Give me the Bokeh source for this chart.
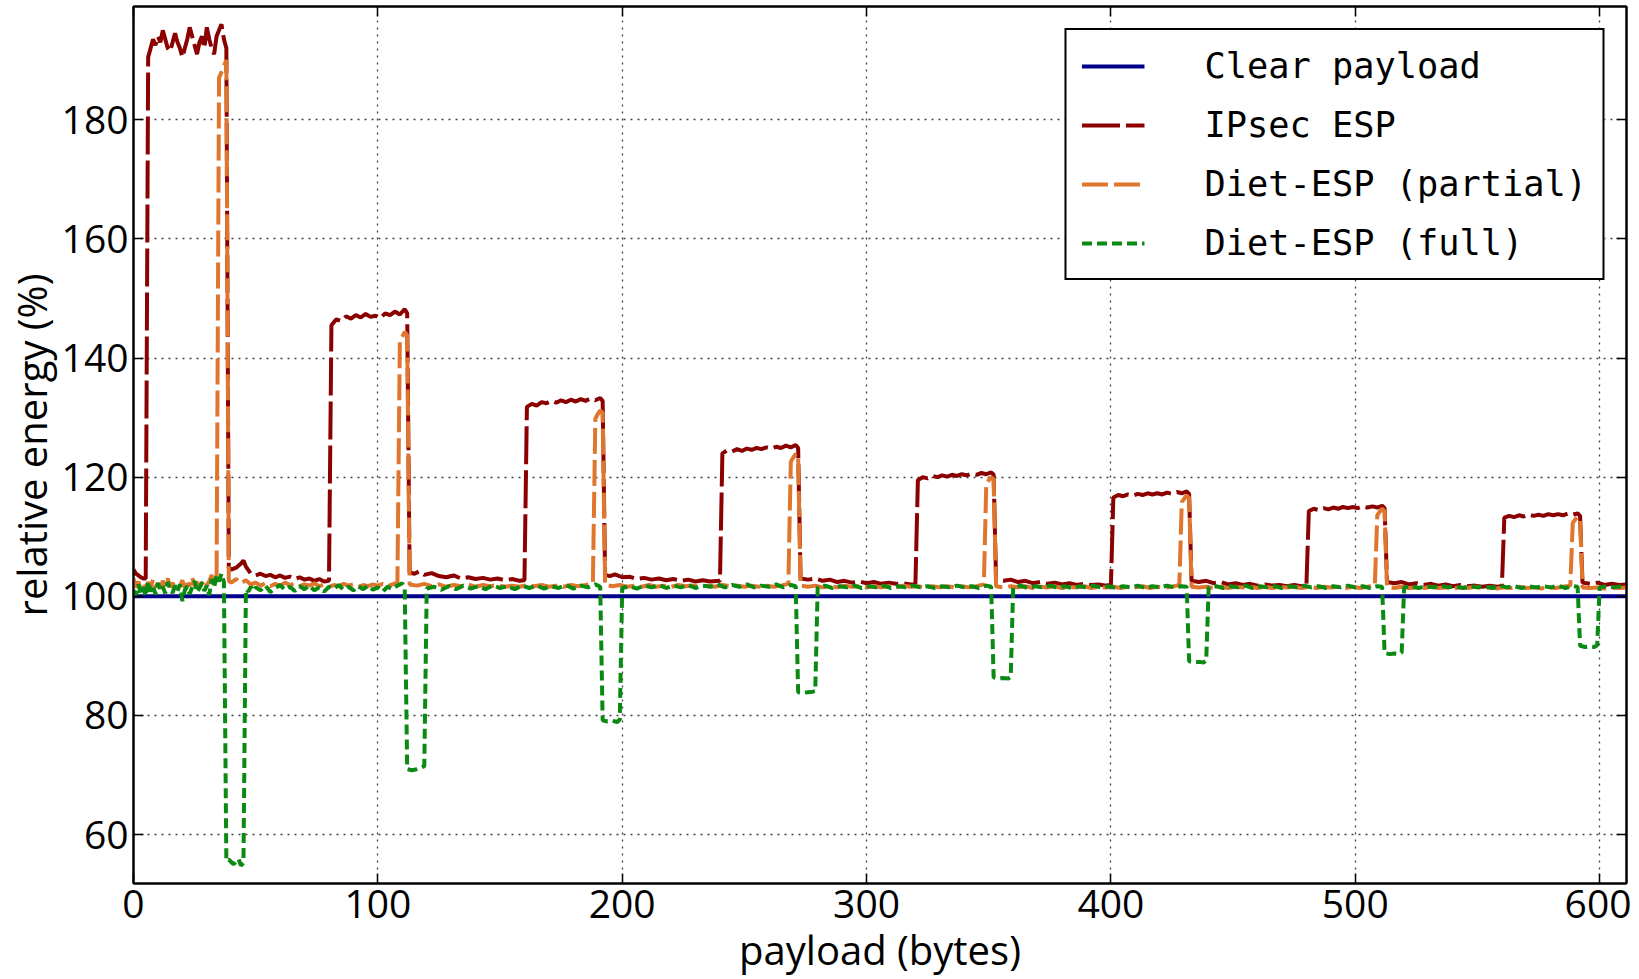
from bokeh.plotting import figure
from bokeh.models import (Range1d, FixedTicker, LinearAxis, CustomJSTickFormatter,
                          Legend, LegendItem)
from bokeh.embed import file_html
from bokeh.resources import INLINE

# ---------------- data ----------------
x_ticks = [0, 100, 200, 300, 400, 500, 600]
y_ticks = [60, 80, 100, 120, 140, 160, 180]
x_lim = (0, 611)
y_lim = (51.8, 199)

clear_x = [0, 611]
clear_y = [100.0, 100.0]

ipsec_x = [0, 1, 2, 3, 4, 5,
           6, 7, 8, 9, 10, 11, 12, 13, 14, 15, 16, 17, 18, 19, 20, 21, 22, 23, 24, 25, 26, 27, 28, 29, 30, 31, 32, 33, 34, 35, 36, 37, 38,
           39, 40, 42, 44, 45, 46, 48, 50, 52, 54, 56, 58, 60, 62, 64, 66, 68, 70, 72, 74, 76, 78, 80,
           81, 83, 85, 87, 89, 91, 93, 95, 97, 99, 101, 103, 105, 107, 109, 111, 112,
           113, 115, 117, 119, 122, 125, 128, 131, 134, 137, 140, 143, 146, 149, 152, 155, 158, 160,
           161, 163, 165, 167, 169, 171, 173, 175, 177, 179, 181, 183, 185, 187, 189, 191, 192,
           193, 195, 197, 200, 203, 206, 209, 212, 215, 218, 221, 224, 227, 230, 233, 236, 240,
           241, 243, 245, 247, 249, 251, 253, 255, 257, 259, 261, 263, 265, 267, 269, 271, 272,
           273, 276, 279, 282, 285, 288, 291, 294, 297, 300, 303, 306, 309, 312, 315, 318, 320,
           321, 323, 325, 327, 329, 331, 333, 335, 337, 339, 341, 343, 345, 347, 349, 351, 352,
           353, 356, 359, 362, 365, 368, 371, 374, 377, 380, 383, 386, 389, 392, 395, 398, 400,
           401, 403, 405, 407, 409, 411, 413, 415, 417, 419, 421, 423, 425, 427, 429, 431, 432,
           433, 436, 439, 442, 445, 448, 451, 454, 457, 460, 463, 466, 469, 472, 475, 478, 480,
           481, 483, 485, 487, 489, 491, 493, 495, 497, 499, 501, 503, 505, 507, 509, 511, 512,
           513, 516, 519, 522, 525, 528, 531, 534, 537, 540, 543, 546, 549, 552, 555, 558, 560,
           561, 563, 565, 567, 569, 571, 573, 575, 577, 579, 581, 583, 585, 587, 589, 591, 592,
           593, 596, 599, 602, 605, 608, 611]
ipsec_y = [104.5, 103.8, 103.5, 103.2, 103.0, 103.0,
           190.5, 192.0, 193.5, 192.5, 194.0, 193.0, 195.0, 193.5, 192.0, 191.5, 193.0, 194.5, 193.0, 192.0, 190.5, 192.0, 193.5, 195.5, 194.0, 192.5, 191.0, 193.0, 194.0, 192.0, 195.5, 193.5, 192.0, 191.0, 194.0, 195.0, 196.0, 193.5, 192.0,
           104.8, 104.5, 104.8, 105.5, 106.0, 105.0, 103.8, 103.5, 103.8, 103.4, 103.6, 103.2, 103.5, 103.1, 103.3, 102.9, 103.2, 102.8, 103.0, 102.6, 102.9, 102.5, 102.6,
           145.5, 146.5, 146.2, 147.0, 146.6, 147.2, 146.8, 147.4, 146.9, 147.1, 146.7, 147.5, 147.2, 147.8, 147.3, 148.2, 147.5,
           104.0, 103.8, 104.2, 103.6, 103.9, 103.4, 103.2, 103.5, 103.0, 103.2, 102.9, 103.1, 102.8, 103.0, 102.7, 102.9, 102.6, 102.7,
           131.8, 132.3, 132.0, 132.6, 132.4, 132.8, 132.5, 132.9, 132.6, 133.0, 132.7, 133.1, 132.8, 133.2, 132.9, 133.3, 132.8,
           103.6, 103.4, 103.7, 103.2, 103.3, 102.9, 103.1, 102.8, 103.0, 102.7, 102.9, 102.6, 102.8, 102.5, 102.7, 102.5, 102.6,
           124.0, 124.5, 124.3, 124.7, 124.4, 124.8, 124.6, 124.9, 124.7, 125.0, 124.8, 125.1, 124.9, 125.3, 125.0, 125.4, 124.9,
           103.0, 102.8, 103.0, 102.6, 102.8, 102.4, 102.6, 102.3, 102.5, 102.2, 102.4, 102.1, 102.3, 102.1, 102.2, 102.0, 102.1,
           119.5, 120.0, 119.8, 120.2, 120.0, 120.3, 120.1, 120.4, 120.2, 120.5, 120.3, 120.6, 120.4, 120.7, 120.5, 120.8, 120.4,
           102.8, 102.6, 102.8, 102.4, 102.6, 102.2, 102.4, 102.1, 102.3, 102.0, 102.2, 101.9, 102.1, 101.9, 102.0, 101.8, 101.9,
           116.6, 117.0, 116.8, 117.1, 116.9, 117.2, 117.0, 117.3, 117.1, 117.3, 117.1, 117.4, 117.2, 117.5, 117.3, 117.6, 117.2,
           102.6, 102.4, 102.6, 102.2, 102.4, 102.0, 102.2, 101.9, 102.1, 101.8, 102.0, 101.8, 101.9, 101.7, 101.9, 101.7, 101.8,
           114.3, 114.7, 114.5, 114.8, 114.6, 114.9, 114.7, 115.0, 114.8, 115.0, 114.8, 115.1, 114.9, 115.1, 114.9, 115.2, 114.8,
           102.4, 102.2, 102.4, 102.0, 102.2, 101.9, 102.1, 101.8, 102.0, 101.7, 101.9, 101.7, 101.8, 101.6, 101.8, 101.6, 101.7,
           113.2, 113.5, 113.3, 113.6, 113.4, 113.7, 113.5, 113.7, 113.5, 113.8, 113.6, 113.8, 113.6, 113.9, 113.7, 113.9, 113.5,
           102.3, 102.1, 102.3, 101.9, 102.1, 101.9, 102.0]

partial_x = [0, 1, 2, 3, 4, 5, 6, 7, 8, 9, 10, 11, 12, 13, 14, 15, 16, 17, 18, 19, 20, 21, 22, 23, 24, 25, 26, 27, 28, 29, 30, 31, 32, 33, 34,
             35, 36, 37, 38, 39,
             40, 42, 44, 46, 48, 50, 52, 54, 56, 58, 60, 62, 64, 66, 68, 70, 72, 74, 76, 78, 80, 82, 84, 86, 88, 90, 92, 94, 96, 98, 100, 102, 104, 106, 108,
             109, 110, 111, 112, 113,
             116, 119, 122, 125, 128, 131, 134, 137, 140, 143, 146, 149, 152, 155, 158, 161, 164, 167, 170, 173, 176, 179, 182, 185, 188,
             189, 190, 191, 192, 193,
             196, 199, 202, 205, 208, 211, 214, 217, 220, 223, 226, 229, 232, 235, 238, 241, 244, 247, 250, 253, 256, 259, 262, 265, 268,
             269, 270, 271, 272, 273,
             276, 279, 282, 285, 288, 291, 294, 297, 300, 303, 306, 309, 312, 315, 318, 321, 324, 327, 330, 333, 336, 339, 342, 345, 348,
             349, 350, 351, 352, 353,
             356, 359, 362, 365, 368, 371, 374, 377, 380, 383, 386, 389, 392, 395, 398, 401, 404, 407, 410, 413, 416, 419, 422, 425, 428,
             429, 430, 431, 432, 433,
             436, 439, 442, 445, 448, 451, 454, 457, 460, 463, 466, 469, 472, 475, 478, 481, 484, 487, 490, 493, 496, 499, 502, 505, 508,
             509, 510, 511, 512, 513,
             516, 519, 522, 525, 528, 531, 534, 537, 540, 543, 546, 549, 552, 555, 558, 561, 564, 567, 570, 573, 576, 579, 582, 585, 588,
             589, 590, 591, 592, 593,
             596, 599, 602, 605, 608, 611]
partial_y = [103.0, 101.5, 102.5, 101.0, 102.0, 101.2, 102.4, 101.5, 102.8, 101.6, 102.2, 101.3, 102.6, 101.8, 103.0, 101.5, 102.3, 101.2, 102.0, 101.6, 102.7, 101.4, 102.1, 101.8, 103.2, 101.7, 102.4, 101.5, 102.2, 102.8, 101.9, 102.5, 103.6, 102.0, 102.6,
             187.0, 188.0, 189.0, 190.0, 102.6,
             102.3, 102.9, 102.2, 102.7, 102.0, 102.3, 101.8, 102.2, 101.7, 102.1, 101.8, 102.3, 101.9, 102.1, 101.7, 102.0, 101.8, 102.2, 101.7, 102.0, 101.6, 101.9, 101.7, 102.1, 101.8, 102.0, 101.6, 101.9, 101.7, 102.0, 101.8, 102.1, 101.7, 102.0, 102.3,
             142.8, 143.6, 144.4, 143.8, 102.0,
             101.8, 102.1, 101.7, 102.0, 101.6, 101.9, 101.7, 102.0, 101.6, 101.9, 101.7, 101.9, 101.6, 101.8, 101.6, 101.9, 101.7, 101.9, 101.6, 101.8, 101.6, 101.9, 101.7, 101.9, 102.2,
             129.8, 130.6, 131.2, 130.8, 101.9,
             101.7, 101.9, 101.6, 101.8, 101.6, 101.9, 101.6, 101.8, 101.6, 101.9, 101.7, 101.8, 101.6, 101.8, 101.6, 101.9, 101.7, 101.8, 101.6, 101.8, 101.6, 101.8, 101.6, 101.8, 102.1,
             122.6, 123.3, 123.9, 123.5, 101.8,
             101.6, 101.8, 101.5, 101.7, 101.5, 101.8, 101.6, 101.7, 101.5, 101.7, 101.5, 101.7, 101.5, 101.8, 101.6, 101.7, 101.5, 101.7, 101.5, 101.7, 101.5, 101.7, 101.5, 101.7, 102.0,
             118.9, 119.5, 120.0, 119.6, 101.7,
             101.5, 101.7, 101.5, 101.7, 101.4, 101.6, 101.5, 101.7, 101.4, 101.6, 101.5, 101.7, 101.4, 101.6, 101.5, 101.6, 101.4, 101.6, 101.5, 101.7, 101.4, 101.6, 101.5, 101.6, 101.9,
             115.8, 116.4, 116.9, 116.5, 101.6,
             101.5, 101.6, 101.4, 101.6, 101.4, 101.6, 101.5, 101.6, 101.4, 101.6, 101.4, 101.6, 101.5, 101.6, 101.4, 101.6, 101.4, 101.6, 101.5, 101.6, 101.4, 101.6, 101.4, 101.6, 101.8,
             113.6, 114.2, 114.7, 114.3, 101.6,
             101.4, 101.6, 101.4, 101.5, 101.4, 101.6, 101.4, 101.5, 101.3, 101.5, 101.4, 101.6, 101.4, 101.5, 101.3, 101.5, 101.4, 101.6, 101.4, 101.5, 101.3, 101.5, 101.4, 101.6, 101.8,
             112.3, 112.9, 113.3, 113.0, 101.5,
             101.4, 101.5, 101.3, 101.5, 101.4, 101.5]

full_x = [0, 1, 2, 3, 4, 5, 6, 7, 8, 9, 10, 11, 12, 13, 14, 15, 16, 17, 18, 19, 20, 21, 22, 23, 24, 25, 26, 27, 28, 29, 30, 31, 32, 33, 34, 35, 36, 37,
          38, 39, 40, 41, 42, 43, 44, 45, 46,
          47, 48, 49, 50, 52, 54, 56, 58, 60, 62, 64, 66, 68, 70, 72, 74, 76, 78, 80, 82, 84, 86, 88, 90, 92, 94, 96, 98, 100, 102, 104, 106, 108, 110, 111,
          112, 114, 116, 118, 119, 120,
          123, 126, 129, 132, 135, 138, 141, 144, 147, 150, 153, 156, 159, 162, 165, 168, 171, 174, 177, 180, 183, 186, 189, 191,
          192, 194, 196, 198, 199, 200,
          203, 206, 209, 212, 215, 218, 221, 224, 227, 230, 233, 236, 239, 242, 245, 248, 251, 254, 257, 260, 263, 266, 269, 271,
          272, 274, 276, 278, 279, 280,
          283, 286, 289, 292, 295, 298, 301, 304, 307, 310, 313, 316, 319, 322, 325, 328, 331, 334, 337, 340, 343, 346, 349, 351,
          352, 354, 356, 358, 359, 360,
          363, 366, 369, 372, 375, 378, 381, 384, 387, 390, 393, 396, 399, 402, 405, 408, 411, 414, 417, 420, 423, 426, 429, 431,
          432, 434, 436, 438, 439, 440,
          443, 446, 449, 452, 455, 458, 461, 464, 467, 470, 473, 476, 479, 482, 485, 488, 491, 494, 497, 500, 503, 506, 509, 511,
          512, 514, 516, 518, 519, 520,
          523, 526, 529, 532, 535, 538, 541, 544, 547, 550, 553, 556, 559, 562, 565, 568, 571, 574, 577, 580, 583, 586, 589, 591,
          592, 594, 596, 598, 599, 600,
          603, 606, 609, 611]
full_y = [101.0, 100.2, 102.0, 100.5, 101.5, 100.0, 102.5, 100.8, 101.8, 100.3, 102.2, 101.0, 101.6, 100.5, 102.4, 101.2, 100.6, 101.8, 100.9, 102.0, 99.2, 101.0, 101.7, 100.4, 101.5, 102.6, 100.7, 101.4, 102.3, 100.9, 101.8, 100.2, 102.9, 101.5, 103.5, 102.5, 103.8, 102.4,
          55.6, 55.8, 55.4, 55.0, 55.6, 55.9, 54.8, 55.3, 101.2,
          100.8, 101.6, 100.9, 101.5, 101.0, 101.8, 100.7, 101.4, 101.9, 101.1, 101.6, 100.9, 101.7, 101.2, 101.8, 101.0, 101.5, 100.8, 101.6, 101.3, 101.9, 101.1, 101.6, 101.0, 101.7, 101.2, 101.8, 101.1, 101.5, 100.8, 101.6, 101.2, 101.8, 102.2, 101.3,
          71.0, 70.8, 71.0, 71.3, 71.5, 101.3,
          101.6, 101.1, 101.7, 101.2, 101.8, 101.3, 101.7, 101.2, 101.8, 101.4, 101.7, 101.2, 101.8, 101.4, 101.8, 101.3, 101.7, 101.4, 101.9, 101.3, 101.8, 101.5, 102.0, 101.6,
          79.2, 79.0, 79.1, 78.9, 79.3, 101.4,
          101.7, 101.3, 101.8, 101.5, 101.9, 101.4, 101.8, 101.5, 101.9, 101.4, 101.8, 101.6, 102.0, 101.5, 101.9, 101.6, 102.0, 101.5, 101.8, 101.6, 102.0, 101.5, 101.9, 101.7,
          83.9, 83.8, 83.9, 84.0, 84.1, 101.5,
          101.8, 101.4, 101.7, 101.5, 101.8, 101.4, 101.7, 101.5, 101.8, 101.4, 101.7, 101.5, 101.8, 101.5, 101.7, 101.4, 101.7, 101.5, 101.8, 101.5, 101.7, 101.4, 101.8, 101.6,
          86.4, 86.2, 86.3, 86.2, 86.5, 101.5,
          101.8, 101.4, 101.7, 101.5, 101.8, 101.5, 101.7, 101.4, 101.7, 101.5, 101.8, 101.5, 101.7, 101.4, 101.7, 101.5, 101.8, 101.4, 101.7, 101.5, 101.8, 101.5, 101.7, 101.6,
          89.1, 88.9, 89.0, 88.9, 89.2, 101.5,
          101.7, 101.4, 101.7, 101.5, 101.8, 101.4, 101.7, 101.5, 101.7, 101.4, 101.7, 101.5, 101.8, 101.5, 101.7, 101.4, 101.7, 101.5, 101.8, 101.5, 101.7, 101.4, 101.7, 101.6,
          90.5, 90.3, 90.4, 90.3, 90.6, 101.5,
          101.7, 101.4, 101.7, 101.5, 101.8, 101.5, 101.7, 101.4, 101.7, 101.5, 101.7, 101.4, 101.8, 101.5, 101.7, 101.4, 101.7, 101.5, 101.7, 101.5, 101.8, 101.4, 101.7, 101.6,
          91.7, 91.5, 91.6, 91.5, 91.8, 101.5,
          101.7, 101.5, 101.7, 101.6]

legend_labels = ["Clear payload", "IPsec ESP", "Diet-ESP (partial)", "Diet-ESP (full)"]
colors = ["#00008b", "#8b0000", "#e0752d", "#0a8a12"]

# ---------------- figure ----------------
p = figure(width=1631, height=979, x_range=Range1d(*x_lim), y_range=Range1d(*y_lim),
           output_backend="svg", toolbar_location=None,
           min_border_left=133, min_border_right=5, min_border_top=6, min_border_bottom=96)
p.background_fill_color = "white"
p.border_fill_color = "white"
p.outline_line_color = "black"
p.outline_line_width = 2

r_clear = p.line(clear_x, clear_y, line_color=colors[0], line_width=4)
r_ipsec = p.line(ipsec_x, ipsec_y, line_color=colors[1], line_width=4, line_dash="38 6")
r_part = p.line(partial_x, partial_y, line_color=colors[2], line_width=4, line_dash="26 6")
r_full = p.line(full_x, full_y, line_color=colors[3], line_width=4, line_dash="10 5")

for ax in (p.xaxis[0], p.yaxis[0]):
    ax.major_label_text_font = "Open Sans"
    ax.major_label_text_font_size = "39px"
    ax.major_label_text_color = "black"
    ax.axis_label_text_font = "Open Sans"
    ax.axis_label_text_font_size = "40px"
    ax.axis_label_text_font_style = "normal"
    ax.axis_label_text_color = "black"
    ax.major_tick_in = 10
    ax.major_tick_out = 0
    ax.minor_tick_line_color = None
    ax.major_tick_line_width = 1.5
    ax.axis_line_width = 2

p.xaxis.ticker = FixedTicker(ticks=x_ticks)
p.yaxis.ticker = FixedTicker(ticks=y_ticks)
p.xaxis.axis_label = "payload (bytes)"
p.yaxis.axis_label = "relative energy (%)"
p.xaxis.major_label_standoff = 6
p.xaxis.axis_label_standoff = 1
p.yaxis.major_label_standoff = 5
p.yaxis.axis_label_standoff = 0

blank = CustomJSTickFormatter(code="return ''")
top = LinearAxis(ticker=FixedTicker(ticks=x_ticks), formatter=blank,
                 major_tick_in=10, major_tick_out=0, minor_tick_line_color=None,
                 major_tick_line_width=1.5, axis_line_width=2, major_label_standoff=0)
right = LinearAxis(ticker=FixedTicker(ticks=y_ticks), formatter=blank,
                   major_tick_in=10, major_tick_out=0, minor_tick_line_color=None,
                   major_tick_line_width=1.5, axis_line_width=2, major_label_standoff=0)
p.add_layout(top, "above")
p.add_layout(right, "right")

for g in (p.xgrid[0], p.ygrid[0]):
    g.grid_line_color = "black"
    g.grid_line_alpha = 0.75
    g.grid_line_width = 1.3
    g.grid_line_dash = "2 5"

legend = Legend(items=[LegendItem(label=legend_labels[0], renderers=[r_clear]),
                       LegendItem(label=legend_labels[1], renderers=[r_ipsec]),
                       LegendItem(label=legend_labels[2], renderers=[r_part]),
                       LegendItem(label=legend_labels[3], renderers=[r_full])],
                location="top_right")
legend.label_text_font = "DejaVu Sans Mono"
legend.label_text_font_size = "35.3px"
legend.label_text_color = "black"
legend.glyph_width = 63
legend.glyph_height = 40
legend.label_height = 40
legend.label_standoff = 60
legend.spacing = 18
legend.padding = 15
legend.margin = 22
legend.border_line_color = "black"
legend.border_line_alpha = 1.0
legend.border_line_width = 2
legend.background_fill_color = "white"
legend.background_fill_alpha = 1.0
p.add_layout(legend, "center")

open("out.html", "w").write(file_html(p, INLINE))
